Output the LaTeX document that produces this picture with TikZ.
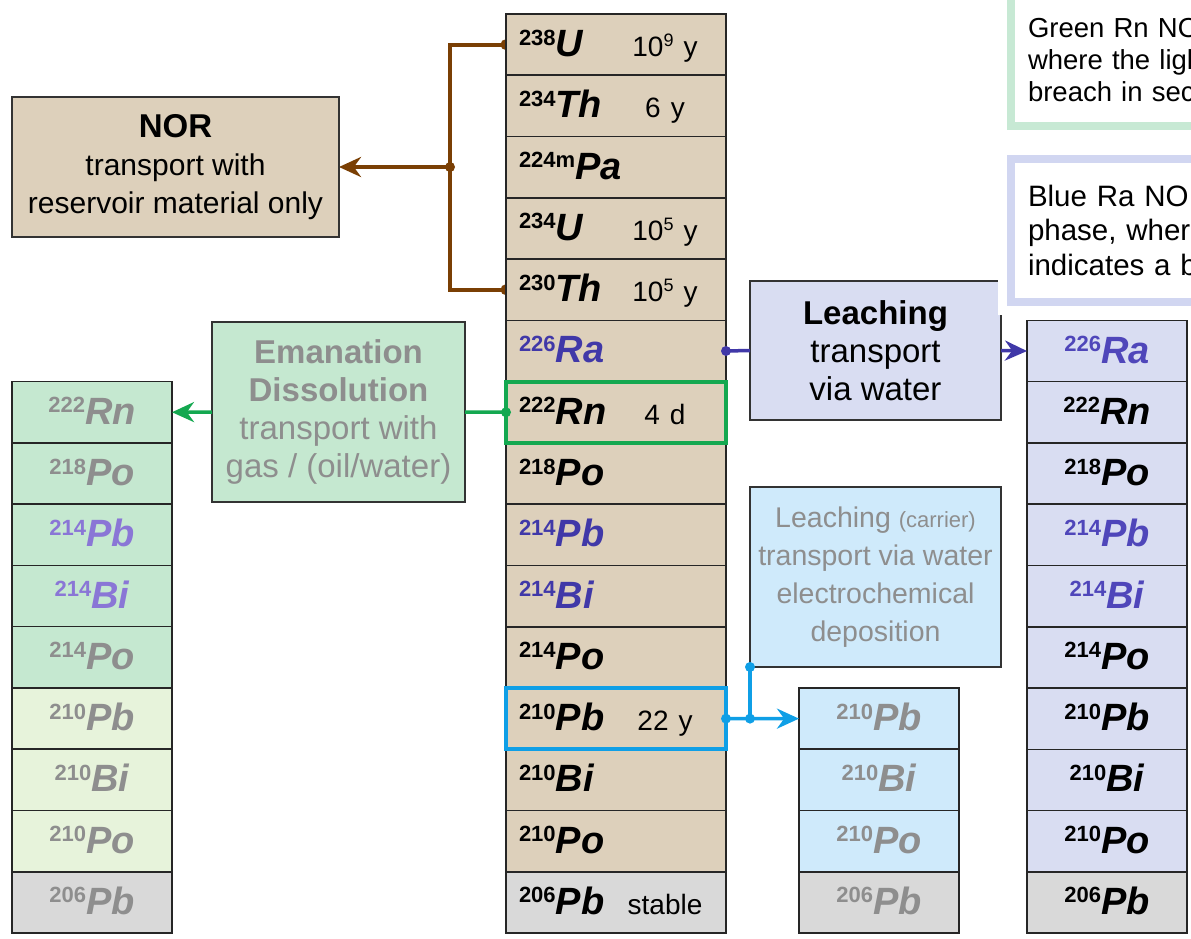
\documentclass[tikz,border=0pt]{standalone}
\usepackage{fontspec}
\setmainfont{Liberation Sans}
\usepackage{xcolor}
\usetikzlibrary{arrows.meta,positioning,backgrounds}

\definecolor{tanFill}{HTML}{DDD0BB}
\definecolor{stableFill}{HTML}{D9D9D9}
\definecolor{rnFill}{HTML}{C5E8D0}
\definecolor{limeFill}{HTML}{E7F3DB}
\definecolor{lavFill}{HTML}{D9DDF2}
\definecolor{skyFill}{HTML}{CFEAFB}
\definecolor{brownLine}{HTML}{7A3F04}
\definecolor{greenLine}{HTML}{14A850}
\definecolor{raBlue}{HTML}{4038A8}
\definecolor{raBlueR}{HTML}{4F46BA}
\definecolor{raPurple}{HTML}{8A76D6}
\definecolor{skyLine}{HTML}{0F9FE6}
\definecolor{greyText}{HTML}{8E8E8E}
\definecolor{noteGreen}{HTML}{C7E9D4}
\definecolor{noteBlue}{HTML}{D1D6F1}

% nuclide label: mass number + symbol
\newcommand{\nuc}[2]{{\fontsize{22}{22}\selectfont\bfseries\raisebox{11.5pt}{#1}}{\fontsize{38}{38}\selectfont\bfseries\itshape #2}}
\newcommand{\halflife}[1]{{\fontsize{28}{28}\selectfont #1}}
\newcommand{\pw}[1]{\raisebox{10pt}{\fontsize{18}{18}\selectfont #1}}
\newcommand{\gap}{\hspace{10pt}}
\newcommand{\crow}[2]{\makebox[106pt][l]{#1}\makebox[80pt][c]{#2}}

\begin{document}
\begin{tikzpicture}[x=1pt,y=-1pt,
cell/.style={draw=black!85,line width=1.6pt,minimum width=160pt,minimum height=61.27pt,inner sep=0pt,outer sep=0pt,text height=27pt,text depth=3pt},
ccell/.style={cell,fill=tanFill,minimum width=220pt,text width=194pt,inner xsep=13pt,align=left},
gcell/.style={cell,fill=rnFill,text=greyText},
lcell/.style={cell,fill=limeFill,text=greyText},
rcell/.style={cell,fill=lavFill},
scell/.style={cell,fill=skyFill,text=greyText},
endcell/.style={fill=stableFill},
trbox/.style={draw=black!80,line width=2pt,align=center,inner sep=0pt,outer sep=0pt,font=\fontsize{30}{38}\selectfont},
note/.style={line width=8pt,fill=white,inner ysep=0pt,inner xsep=17pt,outer sep=0pt,text width=220pt,align=left},
arrow/.style={-{Stealth[length=22pt,width=20pt]}},
brownln/.style={draw=brownLine,line width=4pt},
greenln/.style={draw=greenLine,line width=3.5pt},
blueln/.style={draw=raBlue,line width=3.5pt},
skyln/.style={draw=skyLine,line width=3.5pt},
]
\useasboundingbox (0,0) rectangle (1191,938);
\clip (0,0) rectangle (1191,938);

% main decay chain
\node[ccell,anchor=north west] (u238) at (506,14) {\crow{\nuc{238}{U}}{\halflife{10\pw{9}\gap y}}};
\node[ccell,below=0pt of u238] (th234) {\crow{\nuc{234}{Th}}{\halflife{6\gap y}}};
\node[ccell,below=0pt of th234] (pa234m) {\crow{\nuc{224m}{Pa}}{}};
\node[ccell,below=0pt of pa234m] (u234) {\crow{\nuc{234}{U}}{\halflife{10\pw{5}\gap y}}};
\node[ccell,below=0pt of u234] (th230) {\crow{\nuc{230}{Th}}{\halflife{10\pw{5}\gap y}}};
\node[ccell,below=0pt of th230,text=raBlue] (ra226) {\crow{\nuc{226}{Ra}}{}};
\node[ccell,below=0pt of ra226] (rn222) {\crow{\nuc{222}{Rn}}{\halflife{4\gap d}}};
\node[ccell,below=0pt of rn222] (po218) {\crow{\nuc{218}{Po}}{}};
\node[ccell,below=0pt of po218,text=raBlue] (pb214) {\crow{\nuc{214}{Pb}}{}};
\node[ccell,below=0pt of pb214,text=raBlue] (bi214) {\crow{\nuc{214}{Bi}}{}};
\node[ccell,below=0pt of bi214] (po214) {\crow{\nuc{214}{Po}}{}};
\node[ccell,below=0pt of po214] (pb210) {\crow{\nuc{210}{Pb}}{\halflife{22\gap y}}};
\node[ccell,below=0pt of pb210] (bi210) {\crow{\nuc{210}{Bi}}{}};
\node[ccell,below=0pt of bi210] (po210) {\crow{\nuc{210}{Po}}{}};
\node[ccell,endcell,below=0pt of po210] (pb206) {\crow{\nuc{206}{Pb}}{\halflife{stable}}};

% NOR branch (behind the column)
\node[trbox,fill=tanFill,minimum width=327pt,minimum height=140pt] (nor) at (175.5,167)
  {{\fontsize{33}{38}\selectfont\bfseries NOR}\\transport with\\reservoir material only};
\coordinate (brj) at (450,167);
\begin{pgfonlayer}{background}
\draw[brownln] (u238.west) -| (brj) |- (th230.west);
\draw[brownln,arrow] (brj) -- (nor.east);
\fill[brownLine] (brj) circle (5pt);
\fill[brownLine] (u238.west) circle (5.5pt);
\fill[brownLine] (th230.west) circle (5.5pt);
\end{pgfonlayer}

% radon column (left)
\node[gcell,anchor=north west] (grn222) at (12,381.6) {\nuc{222}{Rn}};
\node[gcell,below=0pt of grn222] (gpo218) {\nuc{218}{Po}};
\node[gcell,below=0pt of gpo218,text=raPurple] (gpb214) {\nuc{214}{Pb}};
\node[gcell,below=0pt of gpb214,text=raPurple] (gbi214) {\nuc{214}{Bi}};
\node[gcell,below=0pt of gbi214] (gpo214) {\nuc{214}{Po}};
\node[lcell,below=0pt of gpo214] (gpb210) {\nuc{210}{Pb}};
\node[lcell,below=0pt of gpb210] (gbi210) {\nuc{210}{Bi}};
\node[lcell,below=0pt of gbi210] (gpo210) {\nuc{210}{Po}};
\node[lcell,endcell,below=0pt of gpo210] (gpb206) {\nuc{206}{Pb}};

% radium column (right)
\node[rcell,anchor=north west,text=raBlueR] (rra226) at (1027,320.4) {\nuc{226}{Ra}};
\node[rcell,below=0pt of rra226] (rrn222) {\nuc{222}{Rn}};
\node[rcell,below=0pt of rrn222] (rpo218) {\nuc{218}{Po}};
\node[rcell,below=0pt of rpo218,text=raBlueR] (rpb214) {\nuc{214}{Pb}};
\node[rcell,below=0pt of rpb214,text=raBlueR] (rbi214) {\nuc{214}{Bi}};
\node[rcell,below=0pt of rbi214] (rpo214) {\nuc{214}{Po}};
\node[rcell,below=0pt of rpo214] (rpb210) {\nuc{210}{Pb}};
\node[rcell,below=0pt of rpb210] (rbi210) {\nuc{210}{Bi}};
\node[rcell,below=0pt of rbi210] (rpo210) {\nuc{210}{Po}};
\node[rcell,endcell,below=0pt of rpo210] (rpb206) {\nuc{206}{Pb}};

% lead column (small)
\node[scell,anchor=north west] (spb210) at (799,688) {\nuc{210}{Pb}};
\node[scell,below=0pt of spb210] (sbi210) {\nuc{210}{Bi}};
\node[scell,below=0pt of sbi210] (spo210) {\nuc{210}{Po}};
\node[scell,endcell,below=0pt of spo210] (spb206) {\nuc{206}{Pb}};

% transport boxes
\node[trbox,fill=rnFill,text=greyText,minimum width=253pt,minimum height=180pt,font=\fontsize{33}{38}\selectfont] (eman) at (338.5,412)
  {\textbf{Emanation}\\\textbf{Dissolution}\\transport with\\gas / (oil/water)};
\node[trbox,fill=lavFill,minimum width=251pt,minimum height=139pt,font=\fontsize{33}{38}\selectfont] (leach) at (875.5,350.5)
  {\textbf{Leaching}\\transport\\via water};
\node[trbox,fill=skyFill,text=greyText,minimum width=251pt,minimum height=180pt,font=\fontsize{28.5}{38}\selectfont] (carrier) at (875.5,577)
  {Leaching {\fontsize{22}{38}\selectfont(carrier)}\\transport via water\\electrochemical\\deposition};

% notes (top right)
\node[note,draw=noteGreen,anchor=south west,minimum height=132pt,font=\fontsize{27.5}{32}\selectfont] (gnote) at (1011,126)
  {Green Rn NO\\where the ligh\\breach in sec};
\node[note,draw=noteBlue,preaction={draw=white,line width=26pt},anchor=north west,minimum height=142.5pt,font=\fontsize{29.5}{34.5}\selectfont] (bnote) at (1011,159)
  {Blue Ra NO\\phase, wher\\indicates a b};

% highlighted members
\draw[greenLine,line width=4pt] (rn222.north west) rectangle (rn222.south east);
\draw[skyLine,line width=4pt] (pb210.north west) rectangle (pb210.south east);

% emanation path
\draw[greenln] (rn222.west) -- (eman.east);
\draw[greenln,arrow] (eman.west) -- (grn222.east);
\fill[greenLine] (rn222.west) circle (5pt);

% leaching path
\draw[blueln] (ra226.east) -- (leach.west);
\draw[blueln,arrow] (leach.east) -- (rra226.west);
\fill[raBlue] (ra226.east) circle (5pt);

% carrier path
\coordinate (skj) at (carrier.south west |- pb210.east);
\draw[skyln] (carrier.south west) -- (skj);
\draw[skyln,arrow] (pb210.east) -- (spb210.west);
\fill[skyLine] (pb210.east) circle (5pt);
\fill[skyLine] (skj) circle (5pt);
\fill[skyLine] (carrier.south west) circle (5pt);
\end{tikzpicture}
\end{document}
